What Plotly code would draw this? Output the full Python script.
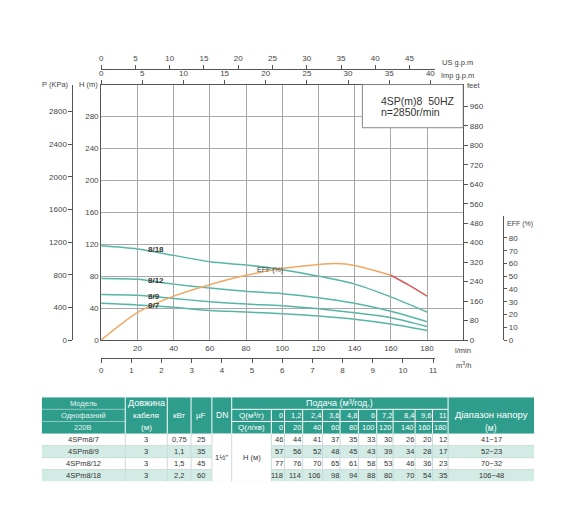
import plotly.graph_objects as go

W, H = 570, 517
PAGE_MARGIN = 8  # default body margin of the html page
FIG_W, FIG_H = W - PAGE_MARGIN, H - PAGE_MARGIN
FONT = "Liberation Sans, Arial, sans-serif"

Q_LPM = [0, 20, 40, 60, 80, 100, 120, 140, 160, 180]
Q_M3H = ["0", "1,2", "2,4", "3,6", "4,8", "6", "7,2", "8,4", "9,6", "11"]
MODELS = ["4SPm8/7", "4SPm8/9", "4SPm8/12", "4SPm8/18"]
CURVE_LABELS = ["8/7", "8/9", "8/12", "8/18"]
CABLE_M = ["3", "3", "3", "3"]
POWER_KW = ["0,75", "1,1", "1,5", "2,2"]
CAP_UF = ["25", "35", "45", "60"]
HEAD_8_7 = [46, 44, 41, 37, 35, 33, 30, 26, 20, 12]
HEAD_8_9 = [57, 56, 52, 48, 45, 43, 39, 34, 28, 17]
HEAD_8_12 = [77, 76, 70, 65, 61, 58, 53, 46, 36, 23]
HEAD_8_18 = [118, 114, 106, 98, 94, 88, 80, 70, 54, 35]
HEAD_RANGE = ["41~17", "52~23", "70~32", "106~48"]
EFF_Q = [0, 20, 40, 60, 80, 100, 120, 130, 140, 160, 170, 180]
EFF_PCT = [0, 21.5, 34.4, 43.4, 50.7, 56, 59.2, 60, 58.5, 50.8, 43, 34.4]

HEADS = [HEAD_8_7, HEAD_8_9, HEAD_8_12, HEAD_8_18]

# ---- styles ----
TEAL = "#55b6a6"
ORANGE = "#f2a862"
RED = "#d65a5c"
GRID = "#a8a8a8"
AX = "#555555"
TXT = "#444444"
HDR = "#2f9d8c"
LIGHT = "#d3ebe5"
SEP = "#c9dcd8"


def fx(px):
    return (px - PAGE_MARGIN) / FIG_W


def fy(py):
    return 1 - (py - PAGE_MARGIN) / FIG_H


PLOT_L, PLOT_R, PLOT_T, PLOT_B = 100, 465.3, 85.3, 343.3
SUB_R = 437  # right end of US g.p.m and m3/h scales
L_PER_PX = 200 / (PLOT_R - PLOT_L)

fig = go.Figure()

for heads in HEADS:
    fig.add_trace(go.Scatter(
        x=Q_LPM, y=heads, mode="lines", hoverinfo="skip",
        line=dict(color=TEAL, width=1.5, shape="spline", smoothing=0.8),
    ))

split = EFF_Q.index(160)
fig.add_trace(go.Scatter(
    x=EFF_Q[:split + 1], y=EFF_PCT[:split + 1], yaxis="y4", mode="lines", hoverinfo="skip",
    line=dict(color=ORANGE, width=1.5, shape="spline", smoothing=0.8),
))
fig.add_trace(go.Scatter(
    x=EFF_Q[split:], y=EFF_PCT[split:], yaxis="y4", mode="lines", hoverinfo="skip",
    line=dict(color=RED, width=1.5, shape="spline", smoothing=0.8),
))

# empty traces so every extra scale gets drawn
for xa, ya in [("x", "y2"), ("x", "y3"), ("x3", "y"), ("x2", "y4"), ("x4", "y4"), ("x5", "y5")]:
    fig.add_trace(go.Scatter(x=[], y=[], xaxis=xa, yaxis=ya, hoverinfo="skip"))

tick = dict(family=FONT, size=8, color=TXT)
common = dict(showgrid=False, zeroline=False, tickfont=tick, linecolor=AX, linewidth=1,
              tickcolor=AX, tickwidth=1, fixedrange=True)

layout_axes = dict(
    xaxis=dict(common, domain=[fx(PLOT_L), fx(PLOT_R)], range=[0, 200], anchor="y",
               tickvals=list(range(20, 200, 20)), showgrid=True, gridcolor=GRID, gridwidth=1,
               showline=True, mirror=True, ticks=""),
    yaxis=dict(common, domain=[fy(PLOT_B), fy(PLOT_T)], range=[0, 320], anchor="x",
               tickvals=list(range(0, 320, 40)), showgrid=True, gridcolor=GRID, gridwidth=1,
               showline=True, mirror=True, ticks=""),
    yaxis2=dict(common, overlaying="y", anchor="free", position=fx(71), side="left",
                range=[0, 3130], tickvals=list(range(0, 3000, 400)), ticks="outside", ticklen=4,
                showline=True),
    yaxis3=dict(common, overlaying="y", anchor="x", side="right", range=[0, 320 / 0.3048],
                tickvals=list(range(0, 1000, 80)), ticks="outside", ticklen=4, showline=True),
    yaxis4=dict(common, domain=[fy(PLOT_B), fy(218)], range=[0, 97.3], anchor="free",
                position=fx(505.7), side="right", tickvals=list(range(0, 90, 10)),
                ticks="outside", ticklen=3, showline=True),
    xaxis2=dict(common, domain=[fx(PLOT_L), fx(SUB_R)],
                range=[0, (SUB_R - PLOT_L) * L_PER_PX / 3.78541], anchor="free",
                position=fy(69.3), side="top", tickvals=list(range(0, 50, 5)),
                ticks="outside", ticklen=4, showline=True),
    xaxis3=dict(common, overlaying="x", anchor="y", side="top", range=[0, 200 / 4.54609],
                tickvals=list(range(0, 45, 5)), ticks="outside", ticklen=4, showline=False),
    xaxis4=dict(common, domain=[fx(PLOT_L), fx(SUB_R)],
                range=[0, (SUB_R - PLOT_L) * L_PER_PX / 16.6667], anchor="free",
                position=fy(361.7), side="bottom", tickvals=list(range(0, 12)),
                ticks="outside", ticklen=4, showline=True),
)

annotations = []


def note(text, x, y, xref="paper", yref="paper", xanchor="center", size=8, color=TXT, **kw):
    annotations.append(dict(text=text, x=x, y=y, xref=xref, yref=yref, xanchor=xanchor,
                            yanchor="middle", showarrow=False,
                            font=dict(family=FONT, size=size, color=color), **kw))


note("P (KPa)", fx(70), fy(85), xanchor="right", size=7.5)
note("H (m)", fx(99), fy(85), xanchor="right", size=7.5)
note("feet", fx(467), fy(86), xanchor="left", size=7.5)
note("US g.p.m", fx(442), fy(63.5), xanchor="left", size=7.5)
note("Imp g.p.m", fx(441), fy(76), xanchor="left", size=7.5)
note("l/min", fx(455), fy(354), xanchor="left", size=7.5)
note("m<sup>3</sup>/h", fx(456), fy(369), xanchor="left", size=7.5)
note("EFF (%)", fx(507), fy(226), xanchor="left", size=7)
note("EFF (%)", 85, 88, xref="x", yref="y", xanchor="left", size=7)
for lab, heads in zip(CURVE_LABELS, HEADS):
    note("<b>" + lab + "</b>", 25, heads[1] - 1, xref="x", yref="y", xanchor="left",
         size=8, color="#333333")

shapes = [dict(type="rect", xref="x", yref="y", x0=144.3, x1=200, y0=265.9, y1=320,
               fillcolor="white", line=dict(color="#888888", width=1), layer="above")]
note("4SP(m)8\u00a0\u00a050HZ", 153.5, 299.5, xref="x", yref="y", xanchor="left", size=10.5,
     color="#333333")
note("n=2850r/min", 153.5, 285.8, xref="x", yref="y", xanchor="left", size=10.5,
     color="#333333")

# ---- table ----
COL_W = [84.3, 42.4, 24, 21, 20, 40, 13.3, 18.3, 20, 17.7, 18.5, 18.5, 16.5, 22.2, 17.6, 15.7, 86.7]
HDR_H, ROW_H = 12.3, 12.1
edges = [0]
for w in COL_W:
    edges.append(edges[-1] + w)
TOTAL = edges[-1]
HDR_B = 3 * HDR_H
TAB_B = HDR_B + 4 * ROW_H
TAB_L, TAB_T = 40, 401

layout_axes["xaxis5"] = dict(domain=[fx(TAB_L), fx(TAB_L + TOTAL)], range=[0, TOTAL],
                             anchor="y5", visible=False, fixedrange=True)
layout_axes["yaxis5"] = dict(domain=[fy(TAB_T + TAB_B), fy(TAB_T)], range=[TAB_B, 0],
                             anchor="x5", visible=False, fixedrange=True)


def rect(x0, x1, y0, y1, fill):
    shapes.append(dict(type="rect", xref="x5", yref="y5", x0=x0, x1=x1, y0=y0, y1=y1,
                       fillcolor=fill, line=dict(width=0), layer="below"))


def line(x0, x1, y0, y1, color, width=1):
    shapes.append(dict(type="line", xref="x5", yref="y5", x0=x0, x1=x1, y0=y0, y1=y1,
                       line=dict(color=color, width=width), layer="below"))


rect(0, TOTAL, 0, HDR_B, HDR)
for i in range(4):
    rect(0, TOTAL, HDR_B + i * ROW_H, HDR_B + (i + 1) * ROW_H, "white" if i % 2 == 0 else LIGHT)
rect(edges[4], edges[6], HDR_B, TAB_B, "white")

for k in [1, 2, 3, 4, 5, 16]:
    line(edges[k], edges[k], 0, HDR_B, "white")
for k in range(6, 16):
    line(edges[k], edges[k], HDR_H, HDR_B, "white")
for r in [1, 2]:
    line(edges[5], edges[16], r * HDR_H, r * HDR_H, "white")
    line(0, edges[1], r * HDR_H, r * HDR_H, "rgba(255,255,255,0.45)")
for k in range(1, 17):
    line(edges[k], edges[k], HDR_B, TAB_B, SEP)
for i in range(1, 4):
    y = HDR_B + i * ROW_H
    line(0, edges[4], y, y, SEP)
    line(edges[6], TOTAL, y, y, SEP)


def cell(text, k, y, align="center", size=8, color="#333333", span=1):
    if align == "center":
        x, anchor = (edges[k] + edges[k + span]) / 2, "center"
    else:
        x, anchor = edges[k + 1] - 0.5, "right"
    note(text, x, y, xref="x5", yref="y5", xanchor=anchor, size=size, color=color,
         borderpad=0)


hc = lambda r: (r + 0.5) * HDR_H
W_TXT = "white"
for r, t in enumerate(["Модель", "Однофазний", "220В"]):
    cell(t, 0, hc(r), size=7.5, color="#e6f3f0")
cell("Довжина", 1, hc(0), size=9, color=W_TXT)
cell("кабеля", 1, hc(1), size=8, color=W_TXT)
cell("(м)", 1, hc(2), size=8, color=W_TXT)
cell("кВт", 2, HDR_B / 2, color=W_TXT)
cell("µF", 3, HDR_B / 2, color=W_TXT)
cell("DN", 4, HDR_B / 2, size=8.5, color=W_TXT)
cell("Подача (м³/год.)", 5, hc(0), size=9, color=W_TXT, span=11)
cell("Q(м³/г)", 5, hc(1), size=8, color=W_TXT)
cell("Q(л/хв)", 5, hc(2), size=8, color=W_TXT)
for j, (qm, ql) in enumerate(zip(Q_M3H, Q_LPM)):
    cell(qm, 6 + j, hc(1), align="right", size=7.5, color=W_TXT)
    cell(str(ql), 6 + j, hc(2), align="right", size=7.5, color=W_TXT)
cell("Діапазон напору", 16, hc(1) - 1, size=9.5, color=W_TXT)
cell("(м)", 16, hc(2), size=8.5, color=W_TXT)

for i in range(4):
    y = HDR_B + (i + 0.5) * ROW_H
    cell(MODELS[i], 0, y, size=7.5)
    cell(CABLE_M[i], 1, y, size=7.5)
    cell(POWER_KW[i], 2, y, size=7.5)
    cell(CAP_UF[i], 3, y, size=7.5)
    for j, v in enumerate(HEADS[i]):
        cell(str(v), 6 + j, y, align="right", size=7.5)
    cell(HEAD_RANGE[i], 16, y, size=7.5)
cell("1½\"", 4, HDR_B + 2 * ROW_H, size=7.5)
cell("H (м)", 5, HDR_B + 2 * ROW_H, size=7.5)

fig.update_layout(
    width=FIG_W, height=FIG_H, autosize=False,
    margin=dict(l=0, r=0, t=0, b=0),
    paper_bgcolor="white", plot_bgcolor="rgba(0,0,0,0)",
    showlegend=False, hovermode=False,
    font=dict(family=FONT, size=8, color=TXT),
    annotations=annotations, shapes=shapes,
    **layout_axes,
)

fig.write_html("out.html")
